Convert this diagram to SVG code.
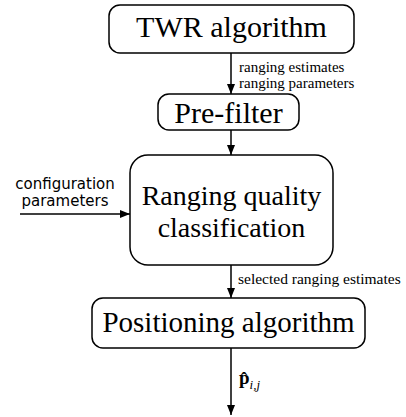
<svg xmlns="http://www.w3.org/2000/svg" width="406" height="417" viewBox="0 0 406 417">
<defs>
<marker id="ah" viewBox="0 0 10 10" refX="10" refY="5" markerWidth="10" markerHeight="10" markerUnits="userSpaceOnUse" orient="auto">
<path d="M0,1 L10,5 L0,9 Z" fill="#000"/>
</marker>
</defs>
<style>
.box{fill:#fff;stroke:#000;stroke-width:1.5}
.t{font-family:'Liberation Serif','Times New Roman',serif;fill:#000;text-anchor:middle}
.s{font-family:'Liberation Serif','Times New Roman',serif;fill:#000;font-size:15px}
.sl{font-family:'Liberation Serif','Times New Roman',serif;fill:#000;font-size:15.5px}
.c{font-family:'DejaVu Sans',sans-serif;fill:#000;font-size:15px;text-anchor:middle}
.ln{stroke:#000;stroke-width:1.5;fill:none;marker-end:url(#ah)}
</style>
<rect width="406" height="417" fill="#fff"/>
<g id="connectors">
<line class="ln" x1="231" y1="53" x2="231" y2="94"/>
<line class="ln" x1="231" y1="130" x2="231" y2="155"/>
<line class="ln" x1="20" y1="214" x2="130" y2="214"/>
<line class="ln" x1="231" y1="265" x2="231" y2="298"/>
<line class="ln" x1="231" y1="348" x2="231" y2="415"/>
<text class="s" x="239" y="72">ranging estimates</text>
<text class="s" x="239" y="88">ranging parameters</text>
<text class="c" x="65" y="189">configuration</text>
<text class="c" x="65" y="206">parameters</text>
<text class="sl" x="238" y="284">selected ranging estimates</text>
<text x="239" y="384" style="font-family:'Liberation Serif',serif;font-size:19px"><tspan font-weight="bold">p̂</tspan><tspan font-style="italic" font-size="13" dy="5">i,j</tspan></text>
</g>
<g id="twr">
<rect class="box" x="109" y="5" width="245" height="48" rx="11"/>
<text class="t" x="231.5" y="37" font-size="30">TWR algorithm</text>
</g>
<g id="prefilter">
<rect class="box" x="158" y="94" width="141" height="36" rx="11"/>
<text class="t" x="228.5" y="123" font-size="30">Pre-filter</text>
</g>
<g id="classification">
<rect class="box" x="130" y="155" width="203" height="110" rx="18"/>
<text class="t" x="231.5" y="205" font-size="28">Ranging quality</text>
<text class="t" x="231.5" y="237" font-size="28">classification</text>
</g>
<g id="positioning">
<rect class="box" x="92" y="298" width="273" height="50" rx="11"/>
<text class="t" x="228.5" y="332" font-size="29">Positioning algorithm</text>
</g>
</svg>
